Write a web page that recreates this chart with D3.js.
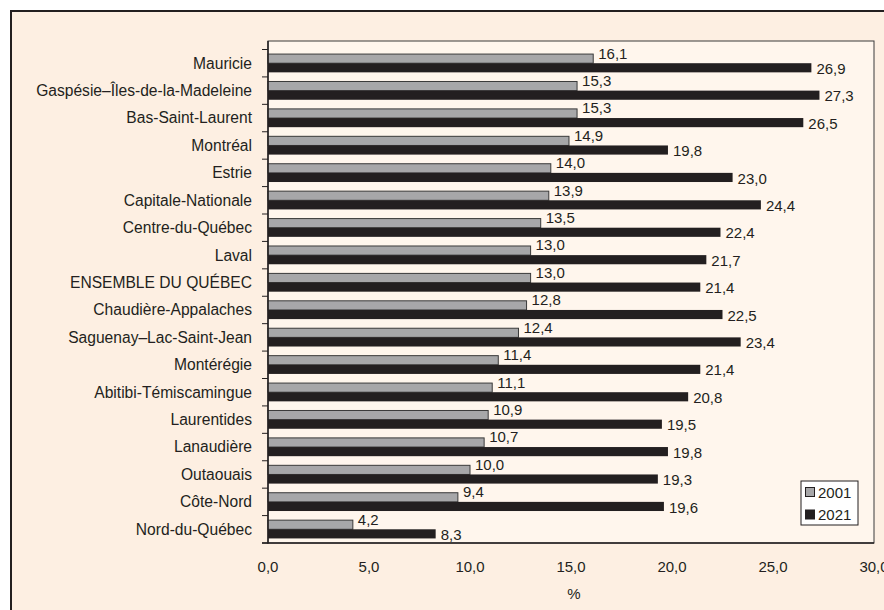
<!DOCTYPE html>
<html>
<head>
<meta charset="utf-8">
<script src="https://cdn.jsdelivr.net/npm/d3@7"></script>
<style>
  body { margin: 0; background: #fff; }
  text { font-family: "Liberation Sans", Arial, sans-serif; fill: #231f20; }
</style>
</head>
<body>
<svg width="884" height="610"></svg>
<script>
var regions = ["Mauricie", "Gaspésie–Îles-de-la-Madeleine", "Bas-Saint-Laurent", "Montréal",
  "Estrie", "Capitale-Nationale", "Centre-du-Québec", "Laval", "ENSEMBLE DU QUÉBEC",
  "Chaudière-Appalaches", "Saguenay–Lac-Saint-Jean", "Montérégie", "Abitibi-Témiscamingue",
  "Laurentides", "Lanaudière", "Outaouais", "Côte-Nord", "Nord-du-Québec"];
var v2001 = [16.1, 15.3, 15.3, 14.9, 14.0, 13.9, 13.5, 13.0, 13.0, 12.8, 12.4, 11.4, 11.1, 10.9, 10.7, 10.0, 9.4, 4.2];
var v2021 = [26.9, 27.3, 26.5, 19.8, 23.0, 24.4, 22.4, 21.7, 21.4, 22.5, 23.4, 21.4, 20.8, 19.5, 19.8, 19.3, 19.6, 8.3];
var years = ["2001", "2021"];
var xTicks = [0, 5, 10, 15, 20, 25, 30];

var colors = {"2001": "#a7a7a9", "2021": "#231f20"};
var fmt = function(v) { return d3.format(".1f")(v).replace(".", ","); };
var fs = 15;

var svg = d3.select("svg");

// outer frame
svg.append("rect")
    .attr("x", 11).attr("y", 11)
    .attr("width", 890).attr("height", 620)
    .attr("fill", "#fdefe2")
    .attr("stroke", "#231f20")
    .attr("stroke-width", 2);

var left = 268, right = 874, plotTop = 41, bottom = 543;

var x = d3.scaleLinear().domain([0, 30]).range([left, right]);
var y = d3.scaleBand().domain(regions).range([49.5, bottom]).paddingInner(0).paddingOuter(0);
var inner = d3.scaleBand().domain(years).range([0, y.bandwidth()]).paddingInner(0).paddingOuter(0.5);

// plot area
svg.append("rect")
    .attr("x", left).attr("y", plotTop)
    .attr("width", right - left).attr("height", bottom - plotTop)
    .attr("fill", "#fff6ed")
    .attr("stroke", "#3a3a3a")
    .attr("stroke-width", 1);

var rows = regions.map(function(r, i) { return {name: r, a: v2001[i], b: v2021[i]}; });

var g = svg.selectAll(".row")
  .data(rows)
  .enter().append("g")
    .attr("class", "row")
    .attr("transform", function(d) { return "translate(0," + y(d.name) + ")"; });

g.append("rect")
    .attr("x", x(0))
    .attr("y", inner("2001"))
    .attr("width", function(d) { return x(d.a) - x(0); })
    .attr("height", inner.bandwidth())
    .attr("fill", colors["2001"])
    .attr("stroke", "#3a3a3a")
    .attr("stroke-width", 1);

g.append("text")
    .attr("x", function(d) { return x(d.a) + 5; })
    .attr("y", inner("2001") + 4.5)
    .attr("font-size", fs)
    .text(function(d) { return fmt(d.a); });

g.append("rect")
    .attr("x", x(0))
    .attr("y", inner("2021"))
    .attr("width", function(d) { return x(d.b) - x(0); })
    .attr("height", inner.bandwidth())
    .attr("fill", colors["2021"]);

g.append("text")
    .attr("x", function(d) { return x(d.b) + 5; })
    .attr("y", inner("2021") + inner.bandwidth() + 1.5)
    .attr("font-size", fs)
    .text(function(d) { return fmt(d.b); });

// category axis
var yAxis = svg.append("g")
    .attr("transform", "translate(" + left + ",0)");
yAxis.append("line")
    .attr("y1", plotTop).attr("y2", bottom + 0.5)
    .attr("stroke", "#231f20").attr("stroke-width", 1.5);
yAxis.selectAll(".tk")
  .data(regions.concat(["_end"]))
  .enter().append("line")
    .attr("x1", -6).attr("x2", 0)
    .attr("y1", function(d, i) { return 49.5 + i * y.step(); })
    .attr("y2", function(d, i) { return 49.5 + i * y.step(); })
    .attr("stroke", "#231f20");
yAxis.selectAll(".lbl")
  .data(regions)
  .enter().append("text")
    .attr("x", -16)
    .attr("y", function(d) { return y(d) + y.bandwidth() / 2 + 5.4; })
    .attr("text-anchor", "end")
    .attr("font-size", 15.6)
    .text(function(d) { return d; });

// value axis
var xAxis = svg.append("g");
xAxis.append("line")
    .attr("x1", left - 6).attr("x2", right)
    .attr("y1", bottom).attr("y2", bottom)
    .attr("stroke", "#231f20").attr("stroke-width", 1.5);
xAxis.selectAll(".lbl")
  .data(xTicks)
  .enter().append("text")
    .attr("x", function(d) { return x(d); })
    .attr("y", 571.5)
    .attr("text-anchor", "middle")
    .attr("font-size", fs)
    .text(fmt);

svg.append("text")
    .attr("x", 574).attr("y", 599)
    .attr("text-anchor", "middle")
    .attr("font-size", fs)
    .text("%");

// legend
var lg = svg.append("g").attr("transform", "translate(801,481)");
lg.append("rect")
    .attr("width", 57).attr("height", 44)
    .attr("fill", "#ffffff")
    .attr("stroke", "#231f20");
lg.selectAll(".it")
  .data(years)
  .enter().append("g")
    .attr("transform", function(d, i) { return "translate(4," + (6 + i * 22.5) + ")"; })
    .each(function(d) {
      var s = d3.select(this);
      s.append("rect").attr("x", 0.5).attr("y", 0.5).attr("width", 9).attr("height", 9)
        .attr("fill", colors[d]).attr("stroke", "#231f20");
      s.append("text").attr("x", 13).attr("y", 10.5).attr("font-size", fs).text(d);
    });
</script>
</body>
</html>
